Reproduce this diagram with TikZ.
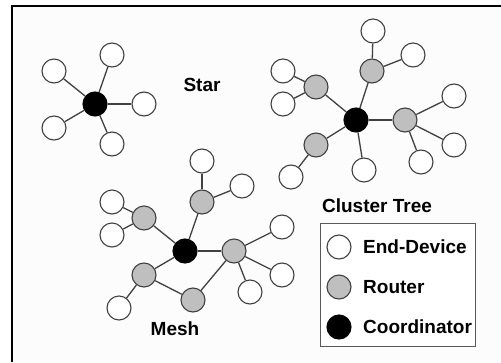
\documentclass[tikz,border=0pt]{standalone}
\usepackage{fontspec}
\setmainfont{Liberation Sans}
\begin{document}
\begin{tikzpicture}[x=1pt,y=-1pt,
  dev/.style={circle,draw=black!75,line width=1.1pt,minimum size=24pt,inner sep=0pt},
  enddev/.style={dev,fill=white},
  router/.style={dev,fill=black!25},
  coord/.style={dev,fill=black,draw=black},
  link/.style={draw=black!75,line width=1.3pt},
  lbl/.style={font=\fontsize{19}{21}\selectfont\bfseries,inner sep=0pt}]
\useasboundingbox (0,0) rectangle (501,362);
% page background and frame
\fill[white] (0,0) rectangle (501,362);
\fill[black!1] (12,6) rectangle (501,362);
\draw[line width=2.2pt] (12,362) -- (12,6) -- (501,6);

% Star
\node[coord] (sc) at (95,104) {};
\node[enddev] (s1) at (112,55) {};
\node[enddev] (s2) at (54,71) {};
\node[enddev] (s3) at (144,104) {};
\node[enddev] (s4) at (54,128) {};
\node[enddev] (s5) at (112,144) {};
\foreach \n in {s1,s2,s3,s4,s5} \draw[link] (sc) -- (\n);
\node[lbl] (starlbl) at (202,85) {Star};

% Cluster tree
\node[coord] (cc) at (356,120) {};
\node[router] (ct) at (372,71) {};
\node[enddev] (ct1) at (373,31) {};
\node[enddev] (ct2) at (413,55) {};
\node[router] (cl) at (316,87) {};
\node[enddev] (cl1) at (283,71) {};
\node[enddev] (cl2) at (283,104) {};
\node[router] (cr) at (405,120) {};
\node[enddev] (cr1) at (454,96) {};
\node[enddev] (cr2) at (454,145) {};
\node[enddev] (cr3) at (421,162) {};
\node[router] (cb) at (316,145) {};
\node[enddev] (cb1) at (291,177) {};
\node[enddev] (cd) at (364,170) {};
\foreach \a/\b in {cc/ct,ct/ct1,ct/ct2,cc/cl,cl/cl1,cl/cl2,cc/cr,cr/cr1,cr/cr2,cr/cr3,cc/cb,cb/cb1,cc/cd}
  \draw[link] (\a) -- (\b);
\node[lbl] (treelbl) at (377,206) {Cluster Tree};

% Mesh
\node[coord] (mc) at (185,251) {};
\node[router] (mt) at (202,202) {};
\node[enddev] (mt1) at (202,161) {};
\node[enddev] (mt2) at (242,186) {};
\node[router] (ml) at (144,218) {};
\node[enddev] (ml1) at (112,202) {};
\node[enddev] (ml2) at (112,235) {};
\node[router] (mr) at (234,251) {};
\node[enddev] (mr1) at (282,227) {};
\node[enddev] (mr2) at (282,275) {};
\node[enddev] (mr3) at (250,292) {};
\node[router] (mll) at (144,275) {};
\node[enddev] (mll1) at (119,308) {};
\node[router] (mb) at (193,300) {};
\foreach \a/\b in {mc/mt,mt/mt1,mt/mt2,mc/ml,ml/ml1,ml/ml2,mc/mr,mr/mr1,mr/mr2,mr/mr3,mc/mll,mll/mll1,mll/mb,mb/mr}
  \draw[link] (\a) -- (\b);
\node[lbl] (meshlbl) at (175,329) {Mesh};

% Legend
\node[draw=black!65,line width=0.8pt,fill=white,minimum width=155pt,minimum height=123pt,inner sep=0pt] (legend) at (397.5,284.5) {};
\node[enddev] (le) at (339,247) {};
\node[router] (lr) at (339,287) {};
\node[coord] (lc) at (339,327) {};
\node[lbl,anchor=west] (let) at (363,247) {End-Device};
\node[lbl,anchor=west] (lrt) at (363,287) {Router};
\node[lbl,anchor=west] (lct) at (363,327) {Coordinator};
\end{tikzpicture}
\end{document}
